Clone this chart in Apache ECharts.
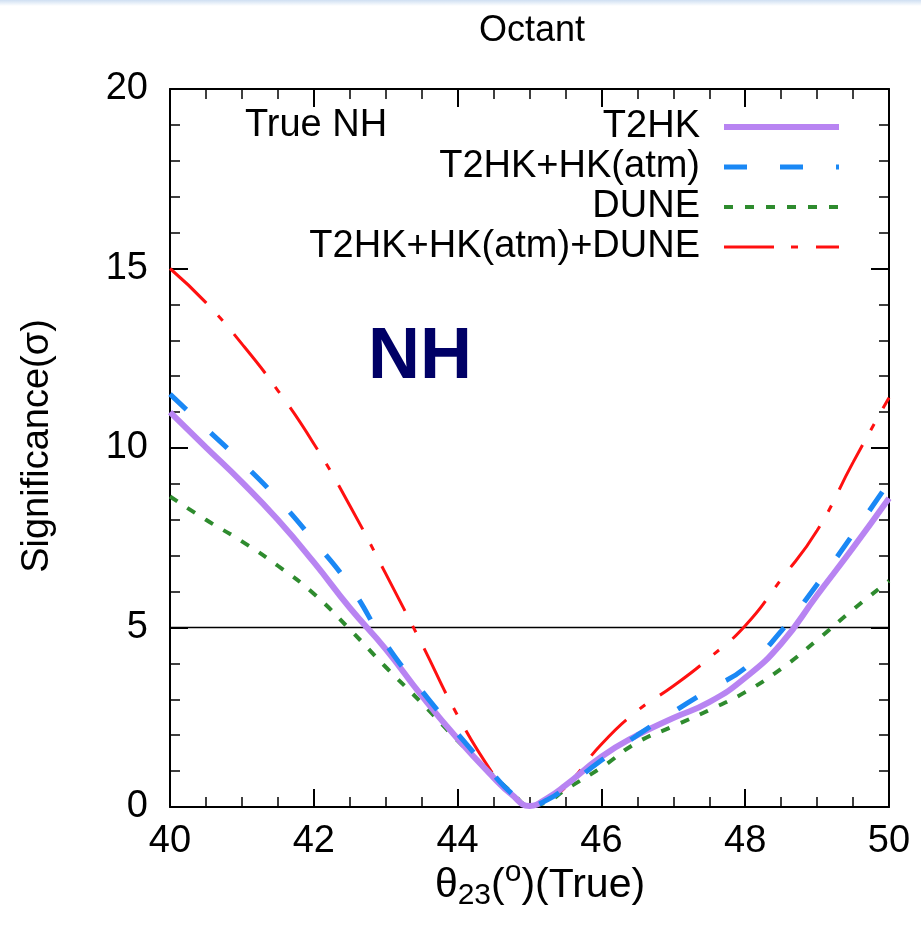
<!DOCTYPE html>
<html><head><meta charset="utf-8">
<script src="https://cdn.jsdelivr.net/npm/echarts@6/dist/echarts.min.js"></script>
<style>html,body{margin:0;padding:0;background:#fff}#c{width:921px;height:938px}</style>
</head><body><div id="c"></div>
<script>
const seriesNames = ['T2HK', 'T2HK+HK(atm)', 'DUNE', 'T2HK+HK(atm)+DUNE'];
const theta23 = [40, 40.5, 41, 41.5, 42, 42.5, 43, 43.5, 44, 44.5, 44.75, 45, 45.25, 45.5, 46, 46.5, 47, 47.5, 48, 48.5, 49, 49.5, 50];
const t2hk = [11.0, 10.02, 9.05, 8.0, 6.82, 5.55, 4.4, 3.1, 1.9, 0.82, 0.35, 0.03, 0.25, 0.6, 1.4, 2.0, 2.48, 2.92, 3.6, 4.55, 5.9, 7.22, 8.6];
const t2hkAtm = [11.5, 10.55, 9.6, 8.58, 7.42, 6.16, 4.55, 3.24, 2.04, 0.9, 0.38, 0.03, 0.2, 0.53, 1.3, 2.0, 2.65, 3.27, 3.87, 4.9, 6.2, 7.6, 9.05];
const dune = [8.65, 8.0, 7.4, 6.72, 5.94, 4.95, 3.9, 2.9, 1.85, 0.87, 0.42, 0.05, 0.15, 0.48, 1.1, 1.8, 2.25, 2.7, 3.2, 3.85, 4.65, 5.5, 6.3];
const combined = [15.0, 14.05, 12.9, 11.6, 10.12, 8.4, 6.5, 4.55, 2.55, 0.9, 0.32, 0.03, 0.2, 0.55, 1.75, 2.68, 3.37, 4.15, 5.05, 6.34, 7.7, 9.6, 11.4];
const xTicks = { min: 40, max: 50, interval: 2 };
const yTicks = { min: 0, max: 20, interval: 5 };
const refLevel = 5;

const FONT = '"Liberation Sans", Arial, sans-serif';
const pairs = arr => theta23.map((x, i) => [x, arr[i]]);

const styles = {
  'T2HK': { color: '#b884f2', width: 6, type: 'solid' },
  'T2HK+HK(atm)': { color: '#1a88f5', width: 5, type: [23, 33] },
  'DUNE': { color: '#2e8b2e', width: 4, type: [9, 12] },
  'T2HK+HK(atm)+DUNE': { color: '#ff1010', width: 3, type: [50, 17, 7, 18] }
};

const chart = echarts.init(document.getElementById('c'), null, { renderer: 'canvas' });

const axisCommon = {
  axisLine: { show: true, onZero: false, lineStyle: { color: '#000', width: 2 } },
  axisTick: { show: true, inside: true, length: 18, lineStyle: { color: '#000', width: 2 } },
  splitLine: { show: false }
};

function lineSeries(name, values, z) {
  const s = styles[name];
  return {
    type: 'line', name: name, data: pairs(values), smooth: 0.5, symbol: 'none',
    lineStyle: { color: s.color, width: s.width, type: s.type }, itemStyle: { color: s.color }, z: z
  };
}

const option = {
  backgroundColor: '#fff',
  animation: false,
  grid: { left: 170, right: 32, top: 89, bottom: 131 },
  legend: {
    data: seriesNames.map(n => ({
      name: n,
      lineStyle: { width: styles[n].width, color: styles[n].color, type: styles[n].type },
      itemStyle: { opacity: 0 }
    })),
    orient: 'vertical',
    align: 'right',
    right: 79,
    top: 107,
    padding: 0,
    itemGap: 0,
    itemWidth: 115,
    itemHeight: 14,
    selectedMode: false,
    itemStyle: { opacity: 0 },
    textStyle: { fontFamily: FONT, fontSize: 38, color: '#000', lineHeight: 40, padding: [0, 19, 0, 0] }
  },
  xAxis: [
    Object.assign({}, axisCommon, {
      type: 'value', min: xTicks.min, max: xTicks.max, interval: xTicks.interval, position: 'bottom',
      minorTick: { show: true, splitNumber: 4, length: 10, lineStyle: { color: '#000', width: 1.5 } },
      axisLabel: { margin: 16, fontSize: 38, color: '#000', fontFamily: FONT }
    }),
    Object.assign({}, axisCommon, {
      type: 'value', min: xTicks.min, max: xTicks.max, interval: xTicks.interval, position: 'top',
      minorTick: { show: true, splitNumber: 4, length: 10, lineStyle: { color: '#000', width: 1.5 } },
      axisLabel: { show: false }
    })
  ],
  yAxis: [
    Object.assign({}, axisCommon, {
      type: 'value', min: yTicks.min, max: yTicks.max, interval: yTicks.interval, position: 'left',
      minorTick: { show: true, splitNumber: 5, length: 10, lineStyle: { color: '#000', width: 1.5 } },
      axisLabel: { margin: 22, fontSize: 38, color: '#000', fontFamily: FONT }
    }),
    Object.assign({}, axisCommon, {
      type: 'value', min: yTicks.min, max: yTicks.max, interval: yTicks.interval, position: 'right',
      minorTick: { show: true, splitNumber: 5, length: 10, lineStyle: { color: '#000', width: 1.5 } },
      axisLabel: { show: false }
    })
  ],
  series: [
    {
      type: 'line', name: '_ref', data: [[xTicks.min, refLevel], [xTicks.max, refLevel]],
      symbol: 'none', silent: true, lineStyle: { color: '#000', width: 1.5 }, z: 1
    },
    lineSeries(seriesNames[3], combined, 3),
    lineSeries(seriesNames[2], dune, 4),
    lineSeries(seriesNames[0], t2hk, 5),
    lineSeries(seriesNames[1], t2hkAtm, 6)
  ],
  graphic: [
    {
      type: 'rect', left: 0, top: 0, shape: { width: 921, height: 6 }, silent: true,
      style: { fill: new echarts.graphic.LinearGradient(0, 0, 0, 1, [
        { offset: 0, color: '#cfdff2' }, { offset: 1, color: '#ffffff' }
      ]) }
    },
    {
      type: 'text', x: 532, y: 31, silent: true,
      style: { text: 'Octant', fontFamily: FONT, fontSize: 36, fill: '#000', align: 'center', verticalAlign: 'middle' }
    },
    {
      type: 'text', x: 245, y: 126, silent: true,
      style: { text: 'True NH', fontFamily: FONT, fontSize: 38, fill: '#000', align: 'left', verticalAlign: 'middle' }
    },
    {
      type: 'text', x: 368, y: 358, silent: true,
      style: { text: 'NH', fontFamily: FONT, fontSize: 72, fontWeight: 'bold', fill: '#000066', align: 'left', verticalAlign: 'middle' }
    },
    {
      type: 'text', x: 38, y: 446, rotation: Math.PI / 2, silent: true,
      style: { text: 'Significance(σ)', fontFamily: FONT, fontSize: 38, fill: '#000', align: 'center', verticalAlign: 'middle' }
    },
    {
      type: 'text', x: 540, y: 886, silent: true,
      style: {
        text: '{m|θ}{sub|23}{m|(}{sup|o}{m|)(True)}',
        align: 'center', verticalAlign: 'middle',
        rich: {
          m: { fontFamily: FONT, fontSize: 41, fill: '#000', lineHeight: 60, verticalAlign: 'middle' },
          sub: { fontFamily: FONT, fontSize: 30, fill: '#000', lineHeight: 60, verticalAlign: 'bottom', padding: [0, 0, 5, 0] },
          sup: { fontFamily: FONT, fontSize: 30, fill: '#000', lineHeight: 60, verticalAlign: 'top', padding: [2, 0, 0, 0] }
        }
      }
    }
  ]
};
chart.setOption(option);
</script>
</body></html>
